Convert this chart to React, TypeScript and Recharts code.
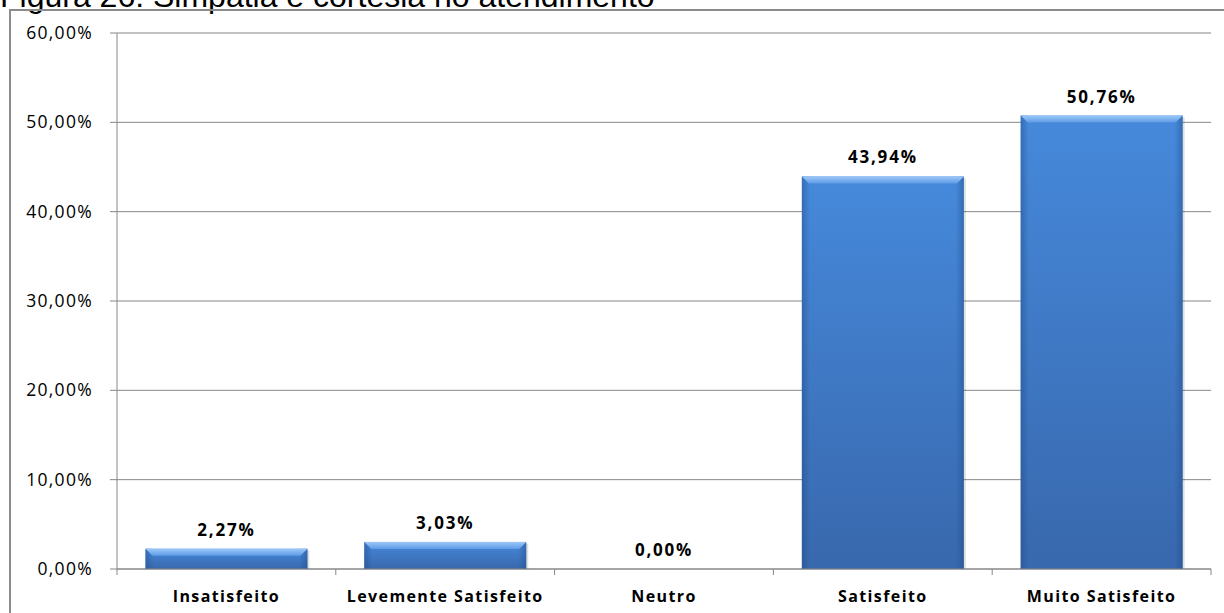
import React from "react";
import {
  BarChart,
  Bar,
  XAxis,
  YAxis,
  CartesianGrid,
  LabelList,
} from "recharts";

const categorias = [
  "Insatisfeito",
  "Levemente Satisfeito",
  "Neutro",
  "Satisfeito",
  "Muito Satisfeito",
];
const percentuais = [2.27, 3.03, 0, 43.94, 50.76];
const yTicks = [0, 10, 20, 30, 40, 50, 60];

const data = categorias.map((nome, i) => ({ nome, valor: percentuais[i] }));

const AXIS_GRAY = "#878787";
const X_TICK = 6;
const X_MARGIN = 16;

// "43,94%" style, comma decimal
function formatPct(v: number): string {
  return v.toFixed(2).replace(".", ",") + "%";
}

function BevelBar(props: any) {
  const { x, y, width, height } = props;
  if (!height || height <= 0) return null;
  const b = Math.min(7, height / 2);
  return (
    <g>
      <rect x={x + 2} y={y + 2} width={width} height={height - 2} fill="#000" opacity={0.12} />
      <rect x={x} y={y} width={width} height={height} fill="url(#barBody)" />
      <rect x={x} y={y} width={width} height={height} fill="url(#barSides)" />
      <polygon
        points={`${x},${y} ${x + width},${y} ${x + width - b},${y + b} ${x + b},${y + b}`}
        fill="url(#barTop)"
      />
    </g>
  );
}

// label centred under the bar, tick marks drawn on the category boundaries (Excel style)
function CategoryTick(props: any) {
  const { x, y, payload, width, visibleTicksCount, index } = props;
  const half = width && visibleTicksCount ? width / visibleTicksCount / 2 : 0;
  const y0 = y - X_TICK - X_MARGIN;
  return (
    <g>
      {half > 0 && (
        <line x1={x - half} x2={x - half} y1={y0} y2={y0 + X_TICK} stroke={AXIS_GRAY} />
      )}
      {half > 0 && index === visibleTicksCount - 1 && (
        <line x1={x + half} x2={x + half} y1={y0} y2={y0 + X_TICK} stroke={AXIS_GRAY} />
      )}
      <text
        x={x}
        y={y}
        dy={11}
        textAnchor="middle"
        fontFamily="'Open Sans', sans-serif"
        fontWeight={700}
        fontSize={16}
        letterSpacing={1.4}
        fill="#000"
      >
        {payload.value}
      </text>
    </g>
  );
}

function PctTick(props: any) {
  const { x, y, payload } = props;
  return (
    <text
      x={x}
      y={y}
      dy={6}
      textAnchor="end"
      fontFamily="'Open Sans', sans-serif"
      fontSize={17.5}
      letterSpacing={1.3}
      fill="#000"
    >
      {formatPct(payload.value)}
    </text>
  );
}

function ValueLabel(props: any) {
  const { x, y, width, value } = props;
  return (
    <text
      x={x + width / 2}
      y={y - 13}
      textAnchor="middle"
      fontFamily="'Open Sans', sans-serif"
      fontWeight={700}
      fontSize={17}
      letterSpacing={1.8}
      fill="#000"
    >
      {formatPct(value)}
    </text>
  );
}

export default function App() {
  return (
    <div
      style={{
        position: "fixed",
        left: 0,
        top: 0,
        width: 1224,
        height: 613,
        overflow: "hidden",
        background: "#fff",
      }}
    >
      <div
        style={{
          position: "absolute",
          left: 0,
          top: -20,
          fontFamily: "'Liberation Sans', Arial, sans-serif",
          fontSize: 32,
          lineHeight: "32px",
          whiteSpace: "nowrap",
          color: "#000",
        }}
      >
        Figura 26: Simpatia e cortesia no atendimento
      </div>
      <div
        style={{
          position: "absolute",
          left: 9,
          top: 9,
          width: 1260,
          height: 660,
          border: "2px solid #8c8c8c",
        }}
      />
      <div style={{ position: "absolute", left: 0, top: 0 }}>
        <BarChart
          width={1224}
          height={613}
          data={data}
          margin={{ top: 33, right: 13, bottom: 0, left: 0 }}
          barCategoryGap="13%"
        >
          <defs>
            <linearGradient id="barBody" x1="0" y1="0" x2="0" y2="1">
              <stop offset="0%" stopColor="#4689db" />
              <stop offset="100%" stopColor="#3868ad" />
            </linearGradient>
            <linearGradient id="barSides" x1="0" y1="0" x2="1" y2="0">
              <stop offset="0%" stopColor="#1f4a85" stopOpacity={0.45} />
              <stop offset="5%" stopColor="#1f4a85" stopOpacity={0} />
              <stop offset="95%" stopColor="#1f4a85" stopOpacity={0} />
              <stop offset="100%" stopColor="#1f4a85" stopOpacity={0.45} />
            </linearGradient>
            <linearGradient id="barTop" x1="0" y1="0" x2="0" y2="1">
              <stop offset="0%" stopColor="#9cc8f7" />
              <stop offset="100%" stopColor="#5e9be6" />
            </linearGradient>
          </defs>
          <CartesianGrid vertical={false} stroke={AXIS_GRAY} strokeWidth={1} />
          <XAxis
            dataKey="nome"
            tickLine={false}
            axisLine={{ stroke: AXIS_GRAY }}
            tickSize={X_TICK}
            tickMargin={X_MARGIN}
            height={44}
            interval={0}
            tick={<CategoryTick />}
          />
          <YAxis
            width={117}
            domain={[0, 60]}
            ticks={yTicks}
            tickSize={7}
            tickMargin={17}
            axisLine={{ stroke: AXIS_GRAY }}
            tickLine={{ stroke: AXIS_GRAY }}
            tick={<PctTick />}
          />
          <Bar dataKey="valor" shape={<BevelBar />} isAnimationActive={false}>
            <LabelList dataKey="valor" content={<ValueLabel />} />
          </Bar>
        </BarChart>
      </div>
    </div>
  );
}
